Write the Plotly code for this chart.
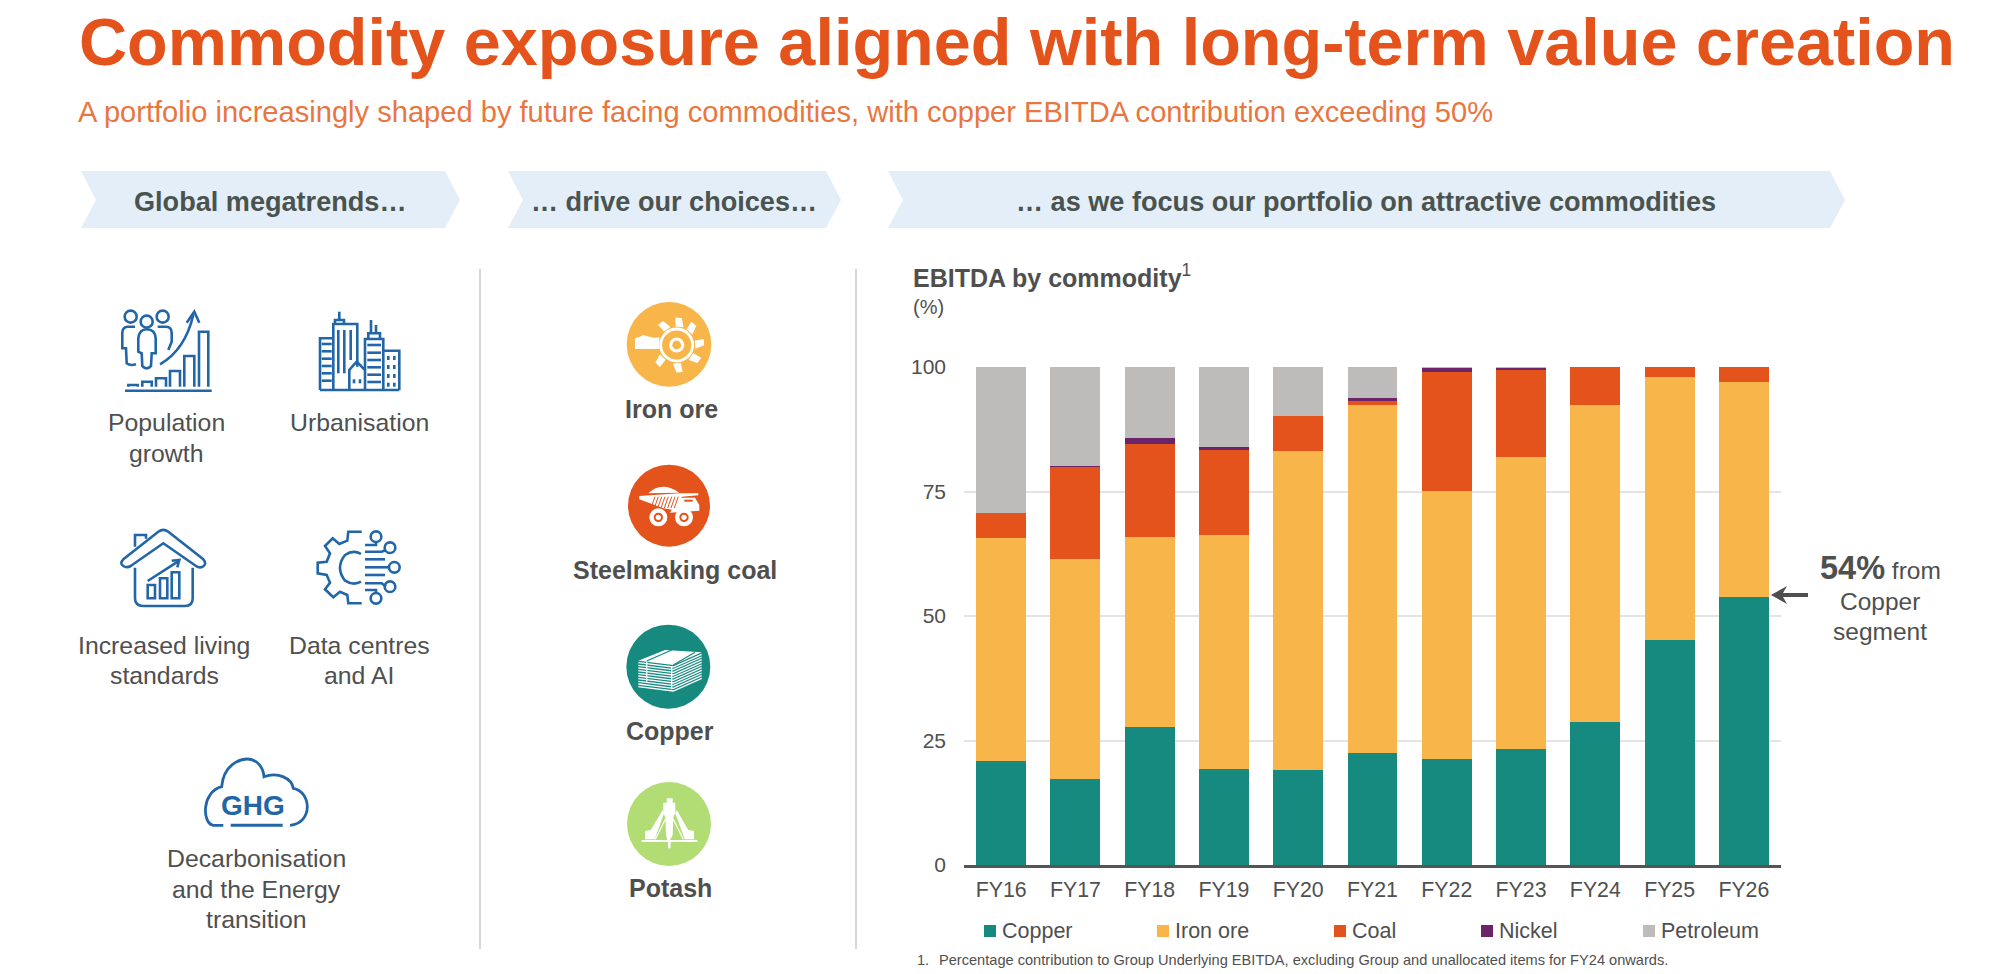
"""
Commodity exposure slide: stacked EBITDA bars plus the megatrend panels.
Slide furniture (text, icons) is placed in page pixels on a hidden overlay axis.
"""
import math
import re

import plotly.graph_objects as go

W, H = 2000, 974

YEARS = ["FY16", "FY17", "FY18", "FY19", "FY20", "FY21", "FY22", "FY23", "FY24", "FY25", "FY26"]
COPPER = [20.9, 17.3, 27.7, 19.2, 19.1, 22.5, 21.3, 23.3, 28.8, 45.1, 53.9]
IRON_ORE = [44.7, 44.2, 38.1, 47.0, 64.0, 69.8, 53.9, 58.6, 63.5, 52.8, 43.0]
COAL = [5.1, 18.5, 18.7, 17.3, 7.1, 0.8, 23.7, 17.5, 7.7, 2.1, 3.1]
NICKEL = [0, 0.2, 1.3, 0.4, 0, 0.6, 1.0, 0.5, 0, 0, 0]
PETROLEUM = [29.3, 19.8, 14.2, 16.1, 9.8, 6.3, 0.1, 0.1, 0, 0, 0]

SERIES_NAMES = ["Copper", "Iron ore", "Coal", "Nickel", "Petroleum"]
SERIES_VALUES = [COPPER, IRON_ORE, COAL, NICKEL, PETROLEUM]
SERIES_COLORS = ["#178A80", "#F7B54A", "#E3531B", "#6B2468", "#BDBCBB"]
LEGEND_X = [984, 1157, 1334, 1481, 1643]

ORANGE = "#E3531B"
GREY = "#4F4F4F"
BLUE = "#2266A8"
CHEVRON = "#E3EEF9"
FONT = "Liberation Sans"

shapes = []
notes = []


def label(x, y, text, size, color=GREY, bold=False, anchor="center"):
    notes.append(dict(
        x=x, y=y, xref="x2", yref="y2", showarrow=False, xanchor=anchor, yanchor="middle",
        text=f"<b>{text}</b>" if bold else text,
        font=dict(family=FONT, size=size, color=color),
    ))


def zoomed(ox, oy, path):
    return re.sub(r"(-?[\d.]+),(-?[\d.]+)",
                  lambda m: f"{ox + float(m[1]) / 3:.1f},{oy + float(m[2]) / 3:.1f}", path)


def stroke(ox, oy, paths, color=BLUE, width=2.6):
    for p in paths:
        shapes.append(dict(type="path", xref="x2", yref="y2", path=zoomed(ox, oy, p),
                           line=dict(color=color, width=width)))


def solid(ox, oy, paths, color="white"):
    for p in paths:
        shapes.append(dict(type="path", xref="x2", yref="y2", path=zoomed(ox, oy, p),
                           fillcolor=color, line=dict(width=0)))


def ring(ox, oy, cx, cy, r, line=BLUE, width=2.6, fill=None):
    shapes.append(dict(type="circle", xref="x2", yref="y2",
                       x0=ox + (cx - r) / 3, x1=ox + (cx + r) / 3,
                       y0=oy + (cy - r) / 3, y1=oy + (cy + r) / 3,
                       line=dict(color=line, width=width) if width else dict(width=0),
                       fillcolor=fill or "rgba(0,0,0,0)"))


# ---- banner chevrons and dividers
def chevron(x0, x1, text, text_x):
    shapes.append(dict(type="path", xref="x2", yref="y2", fillcolor=CHEVRON, line=dict(width=0), layer="below",
                       path=f"M{x0},171 L{x1 - 15},171 L{x1},200 L{x1 - 15},228 L{x0},228 L{x0 + 15},200 Z"))
    label(text_x, 201, text, 27.1, color="#4A534E", bold=True)


chevron(81, 460, "Global megatrends…", 270)
chevron(508, 841, "… drive our choices…", 674)
chevron(888, 1845, "… as we focus our portfolio on attractive commodities", 1366)

for dx in (480, 856):
    shapes.append(dict(type="line", xref="x2", yref="y2", x0=dx, x1=dx, y0=269, y1=949,
                       line=dict(color="#C9C9C9", width=1.5)))

label(77, 42, "Commodity exposure aligned with long-term value creation", 66.6, color=ORANGE, bold=True, anchor="left")
label(76, 112, "A portfolio increasingly shaped by future facing commodities, with copper EBITDA contribution exceeding 50%",
      29.1, color="#E9763F", anchor="left")

OX, OY = 60, 270
for cx, cy in [(212, 140), (260, 155), (308, 140)]:
    ring(OX, OY, cx, cy, 18)
stroke(OX, OY, [
    "M235,205 Q238,178 260,178 Q285,178 287,205 L287,250 L275,250 L273,288 Q260,302 247,288 L245,250 L235,245 Z",
    "M225,170 L202,170 Q187,172 187,190 L187,235 L198,235 L200,280 Q210,288 228,283",
    "M293,170 L320,170 Q335,172 335,190 L335,215 L325,240",
    "M205,350 L205,345 L233,345 L233,350",
    "M247,350 L247,335 L275,335 L275,350",
    "M288,350 L288,325 L318,325 L318,350",
    "M330,350 L330,303 L360,303 L360,350",
    "M373,350 L373,258 L403,258 L403,350",
    "M417,350 L417,185 L445,185 L445,350",
    "M195,362 L455,362",
    "M300,283 Q375,240 400,135",
    "M380,158 L403,125 L418,158",
])
label(166, 422, "Population", 24.8)
label(166, 453, "growth", 24.8)

stroke(OX, OY, [
    "M780,360 L780,205 L820,205",
    "M820,360 L820,162 L892,162 L892,290",
    "M825,162 L825,150 L852,150 L852,162",
    "M838,150 L838,125",
    "M835,180 L835,310", "M853,180 L853,310", "M872,180 L872,270",
    "M868,360 L868,300 L890,275 L915,300 L915,360",
    "M915,300 L915,207 L970,207 L970,360",
    "M925,207 L925,190 L960,190 L960,207",
    "M933,190 L933,150", "M948,190 L948,165",
    "M970,242 L1018,242 L1018,360",
    "M780,360 L1018,360",
    "M785,222 L815,222", "M785,244 L815,244", "M785,266 L815,266", "M785,288 L815,288",
    "M785,310 L815,310", "M785,332 L815,332",
    "M922,225 L963,225", "M922,248 L963,248", "M922,270 L963,270", "M922,292 L963,292",
    "M922,314 L963,314", "M922,336 L963,336",
    "M882,328 L882,340", "M900,328 L900,340",
    "M985,258 L985,270", "M1003,258 L1003,270", "M985,285 L985,297", "M1003,285 L1003,297",
    "M985,312 L985,324", "M1003,312 L1003,324", "M985,338 L985,350", "M1003,338 L1003,350",
])
label(359, 422, "Urbanisation", 24.8)

stroke(OX, OY, [
    "M225,830 L225,795 L258,795 L258,806",
    "M190,868 L295,785 Q310,774 325,785 L430,868 Q442,882 428,890 Q418,895 408,888 L310,820 L212,888 Q200,895 190,888 Q178,880 190,868 Z",
    "M225,893 L225,985 Q225,1008 250,1008 L375,1008 Q398,1008 398,985 L398,893",
    "M263,985 L263,945 L285,945 L285,985 Z",
    "M300,985 L300,925 L322,925 L322,985 Z",
    "M335,985 L335,907 L358,907 L358,985 Z",
    "M263,933 L358,872", "M335,872 L358,870 L352,892",
])
label(164, 645, "Increased living", 24.8)
label(164, 675, "standards", 24.8)

stroke(OX, OY, [
    "M905,785 L865,785 L862,812 L838,822 L818,805 L795,828 L810,850 L800,875 L773,878 L773,910 "
    "L800,915 L810,938 L795,958 L820,982 L840,965 L862,975 L865,1000 L905,1000",
    "M903,852 Q880,838 855,855 Q825,893 855,932 Q880,948 903,935",
    "M915,825 L948,825 L948,817",
    "M915,845 L965,845 L978,840",
    "M915,892 L985,892",
    "M915,868 L975,868", "M915,915 L975,915",
    "M915,940 L965,940 L978,950",
    "M915,960 L948,960 L948,968",
])
for cx, cy in [(948, 800), (990, 833), (1003, 892), (990, 950), (948, 985)]:
    ring(OX, OY, cx, cy, 16)
label(359, 645, "Data centres", 24.8)
label(359, 675, "and AI", 24.8)

# GHG cloud, crop at (190, 745)
stroke(190, 745, [
    "M100,241 L70,241 C35,235 35,140 95,125 C100,60 150,42 170,42 C200,42 220,65 222,95 "
    "C265,80 305,100 310,130 C365,140 370,235 300,241",
], width=2.8)
stroke(190, 745, ["M122,241 L278,241"], width=3)
label(253, 805, "GHG", 28, color=BLUE, bold=True)
label(256, 858, "Decarbonisation", 24.8)
label(256, 889, "and the Energy", 24.8)
label(256, 919, "transition", 24.8)

# ---- commodity badges
# iron ore: bucket wheel, crop at (620, 295)
ring(620, 295, 147, 148, 127, width=0, fill="#F7B54A")
solid(620, 295, ["M45,162 L45,130 L60,125 L70,120 L100,128 L118,130 L118,162 Z"])
ring(620, 295, 170, 150, 48, line="white", width=2.8)
ring(620, 295, 170, 150, 18, line="white", width=3.2)
for deg in (-172, -125, -85, -50, -5, 35, 85, 135):
    a = math.radians(deg)
    ca, sa = math.cos(a), math.sin(a)
    tip_x, tip_y = 170 + 82 * ca, 150 + 82 * sa
    base_x, base_y = 170 + 55 * ca, 150 + 55 * sa
    solid(620, 295, [f"M{base_x - 16 * sa:.1f},{base_y + 16 * ca:.1f} L{tip_x - 8 * sa:.1f},{tip_y + 8 * ca:.1f} "
                     f"L{tip_x + 11 * sa:.1f},{tip_y - 11 * ca:.1f} L{base_x + 8 * sa:.1f},{base_y - 8 * ca:.1f} Z"])
label(671, 409, "Iron ore", 25, bold=True)

# coal: haul truck, crop at (620, 460)
ring(620, 460, 147, 137, 123, width=0, fill=ORANGE)
solid(620, 460, [
    "M85,100 Q125,62 178,98 Z",
    "M58,108 L178,100 L235,100 L235,106 L186,110 L160,150 L130,145 L58,118 Z",
    "M178,113 L225,113 L238,135 L238,152 L150,158 Z",
])
stroke(620, 460, [f"M{x},110 L{x - 12},144" for x in range(105, 180, 10)], color=ORANGE, width=1)
stroke(620, 460, ["M193,122 L218,122"], color=ORANGE, width=2)
for cx in (115, 192):
    ring(620, 460, cx, 172, 27, width=0, fill="white")
    ring(620, 460, cx, 172, 11, line=ORANGE, width=2)
label(675, 570, "Steelmaking coal", 25, bold=True)

# copper: stacked cathode sheets, crop at (620, 620)
ring(620, 620, 145, 140, 126, width=0, fill="#178A80")
solid(620, 620, ["M55,122 L135,90 L245,97 L160,135 Z"])
stroke(620, 620, ["M80,123 L155,90", "M160,135 L225,97"], color="#178A80", width=1.2)
for i in range(10):
    dy = i * 8
    stroke(620, 620, [f"M55,{128 + dy} L160,{141 + dy} L245,{103 + dy}"], color="white", width=1.3)
stroke(620, 620, ["M80,125 L80,185", "M155,140 L155,208"], color="white", width=1.3)
label(670, 731, "Copper", 25, bold=True)

# potash: headframe, crop at (620, 780)
ring(620, 780, 147, 132, 126, width=0, fill="#B2DC74")
solid(620, 780, [
    "M130,100 L130,68 L140,68 L140,55 L158,55 L158,68 L166,68 L166,100 L160,112 L158,165 L150,180 L142,180 L138,165 L136,112 Z",
    "M75,178 L75,153 L92,150 L128,90 L132,100 L104,178 Z",
    "M222,178 L222,153 L205,150 L170,90 L166,100 L194,178 Z",
])
stroke(620, 780, ["M106,178 L136,118", "M190,178 L160,118"], color="white", width=1.2)
stroke(620, 780, ["M65,183 L232,183"], color="white", width=2.2)
stroke(620, 780, ["M148,183 L148,205"], color="white", width=2.6)
label(670, 888, "Potash", 25, bold=True)

# ---- chart
label(911, 276, "<b>EBITDA by commodity</b><sup>1</sup>", 25, anchor="left")
label(911, 307, "(%)", 20, anchor="left")

fig = go.Figure()
for name, values, color in zip(SERIES_NAMES, SERIES_VALUES, SERIES_COLORS):
    fig.add_trace(go.Bar(name=name, x=YEARS, y=values, marker=dict(color=color, line=dict(width=0)),
                         showlegend=False))
fig.add_trace(go.Scatter(x=[0, W], y=[0, H], xaxis="x2", yaxis="y2", mode="markers",
                         marker=dict(opacity=0), hoverinfo="skip", showlegend=False))

for name, color, lx in zip(SERIES_NAMES, SERIES_COLORS, LEGEND_X):
    shapes.append(dict(type="rect", xref="x2", yref="y2", x0=lx, x1=lx + 12, y0=925, y1=937,
                       fillcolor=color, line=dict(width=0)))
    label(lx + 16, 931, name, 21.5, anchor="left")

# callout on the FY26 copper share
shapes.append(dict(type="path", xref="x2", yref="y2", fillcolor=GREY, line=dict(width=0),
                   path="M1771,595 L1787,586 L1783,593 L1808,593 L1808,597 L1783,597 L1787,604 Z"))
label(1880, 568, "<b><span style='font-size:32.5px'>54%</span></b> from", 24.5)
label(1880, 601, "Copper", 24.5)
label(1880, 631, "segment", 24.5)

label(915, 960, "1.", 14.6, anchor="left")
label(937, 960, "Percentage contribution to Group Underlying EBITDA, excluding Group and unallocated items for FY24 onwards.",
      14.6, anchor="left")

fig.update_layout(
    width=W, height=H, margin=dict(l=0, r=0, t=0, b=0),
    paper_bgcolor="white", plot_bgcolor="rgba(0,0,0,0)",
    barmode="stack", bargap=0.327,
    font=dict(family=FONT, color=GREY),
    shapes=shapes, annotations=notes,
    xaxis=dict(domain=[964 / W, 1781 / W], anchor="y", automargin=False, showgrid=False, showline=True,
               linecolor="#555555", linewidth=2.5, ticks="", tickfont=dict(size=21.3, color=GREY),
               ticklabelstandoff=4),
    yaxis=dict(domain=[1 - 865 / H, 1 - 367 / H], anchor="x", automargin=False, range=[0, 100],
               tickvals=[0, 25, 50, 75, 100], gridcolor="#E4E4E4", gridwidth=2, zeroline=False, showline=False,
               ticks="", tickfont=dict(size=21, color=GREY), ticklabelstandoff=17),
    xaxis2=dict(domain=[0, 1], anchor="y2", automargin=False, range=[0, W], visible=False, fixedrange=True),
    yaxis2=dict(domain=[0, 1], anchor="x2", automargin=False, range=[H, 0], visible=False, fixedrange=True),
)

# the page's default body margin would push the slide 8px off
fig.write_html("out.html", config={"displayModeBar": False}, post_script="document.body.style.margin = '0';")
